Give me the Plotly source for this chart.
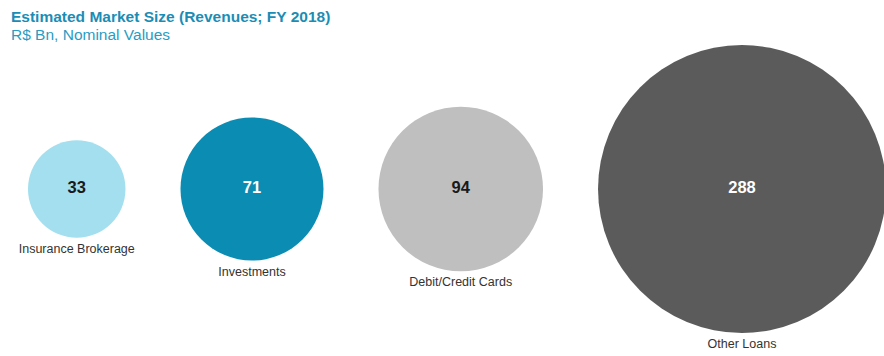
import plotly.graph_objects as go

# Market size by business line (R$ Bn, FY 2018)
categories = ["Insurance Brokerage", "Investments", "Debit/Credit Cards", "Other Loans"]
revenues = [33, 71, 94, 288]
value_labels = ["33", "71", "94", "288"]

# Styling
fill_colors = ["#a3dfee", "#0b8cb3", "#bfbfbf", "#5b5b5b"]
value_colors = ["#1a1a1a", "#ffffff", "#1a1a1a", "#ffffff"]
FONT = "Liberation Sans, Arial, sans-serif"

W, H = 884, 356
# plotly area mode: bubble diameter (px) = sqrt(2 * value / sizeref)
SIZEREF = 2 / 288
LEFT, GAP, ROW_Y = 28, 55, 189
LABEL_PAD = 12

# Bubbles are laid out left to right, each placed after the previous one plus a gap
diameters = [(2 * v / SIZEREF) ** 0.5 for v in revenues]
centers = []
cursor = LEFT
for d in diameters:
    centers.append(cursor + d / 2)
    cursor += d + GAP
label_y = [ROW_Y + d / 2 + LABEL_PAD for d in diameters]

fig = go.Figure()

fig.add_trace(go.Scatter(
    x=centers,
    y=[ROW_Y] * len(revenues),
    mode="markers+text",
    marker=dict(size=revenues, sizemode="area", sizeref=SIZEREF,
                color=fill_colors, line=dict(width=0), opacity=1),
    text=value_labels,
    textposition="middle center",
    textfont=dict(family=FONT, size=16.5, color=value_colors, weight="bold"),
    hoverinfo="skip",
    cliponaxis=False,
))

fig.add_trace(go.Scatter(
    x=centers,
    y=label_y,
    mode="text",
    text=categories,
    textposition="middle center",
    textfont=dict(family=FONT, size=12.5, color="#333333"),
    hoverinfo="skip",
    cliponaxis=False,
))

fig.add_annotation(
    text="Estimated Market Size (Revenues; FY 2018)",
    xref="paper", yref="paper", x=9 / W, y=1 - 16 / H,
    xanchor="left", yanchor="middle", showarrow=False,
    font=dict(family=FONT, size=15.5, color="#1b8db5", weight="bold"),
)
fig.add_annotation(
    text="R$ Bn, Nominal Values",
    xref="paper", yref="paper", x=9 / W, y=1 - 34 / H,
    xanchor="left", yanchor="middle", showarrow=False,
    font=dict(family=FONT, size=15.5, color="#2a9cc2"),
)

fig.update_layout(
    width=W, height=H,
    margin=dict(l=0, r=0, t=0, b=0),
    paper_bgcolor="white", plot_bgcolor="white",
    showlegend=False,
    xaxis=dict(range=[0, W], visible=False, fixedrange=True),
    yaxis=dict(range=[H, 0], visible=False, fixedrange=True),
)

fig.write_html("out.html")
